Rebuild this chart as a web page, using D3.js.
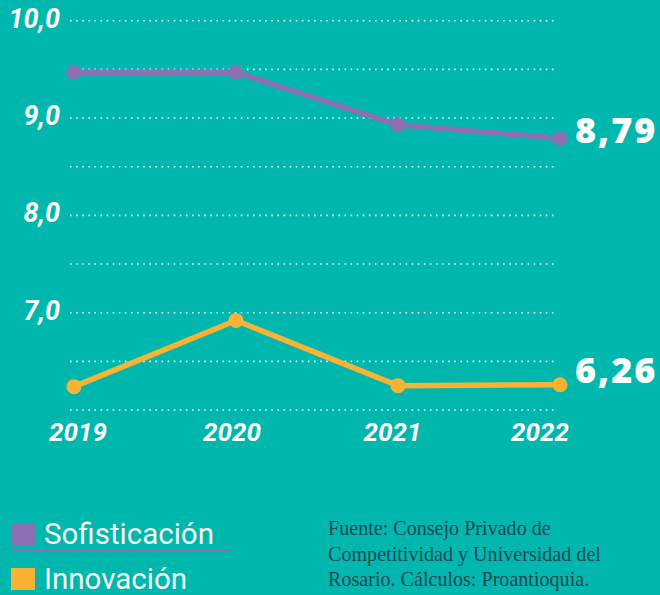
<!DOCTYPE html>
<html><head><meta charset="utf-8">
<script src="https://cdn.jsdelivr.net/npm/d3@7"></script>
<style>html,body{margin:0;padding:0;background:#00B7AD;}svg{display:block;}</style>
</head><body>
<svg id="c" width="660" height="595"></svg>
<script>
const years = ["2019","2020","2021","2022"];
const sofisticacion = [9.47, 9.47, 8.93, 8.79];
const innovacion = [6.24, 6.92, 6.25, 6.26];
const gridValues = [6.0, 6.5, 7.0, 7.5, 8.0, 8.5, 9.0, 9.5, 10.0];
const tickLabels = [7.0, 8.0, 9.0, 10.0];
const endLabels = ["8,79", "6,26"];
const legendNames = ["Sofisticación", "Innovación"];
const sourceLines = ["Fuente: Consejo Privado de", "Competitividad y Universidad del", "Rosario. Cálculos: Proantioquia."];

const BG = "#00B7AD", PURPLE = "#8C70B1", ORANGE = "#F8B334";
const labelShift = [4, -4, -5.5, -20];
const svg = d3.select("#c");
svg.append("rect").attr("width",660).attr("height",595).attr("fill",BG);

const x = d3.scalePoint().domain(years).range([74, 560]);
const y = d3.scaleLinear().domain([6, 10]).range([410, 20.7]);
const fmt = v => d3.format(".1f")(v).replace(".", ",");

// grid
svg.append("g").selectAll("line").data(gridValues).join("line")
  .attr("x1", 70).attr("x2", 558)
  .attr("y1", d => y(d)).attr("y2", d => y(d))
  .attr("stroke", "#ffffff").attr("stroke-opacity", 0.9)
  .attr("stroke-width", 1.6).attr("stroke-dasharray", "1.6,4.5");

// y labels
svg.append("g").selectAll("text").data(tickLabels).join("text")
  .attr("x", 60).attr("y", d => y(d) + 7)
  .attr("text-anchor", "end")
  .attr("font-family", "Roboto, sans-serif").attr("font-weight", 700).attr("font-style", "italic")
  .attr("font-size", 27).attr("fill", "#fff")
  .text(d => fmt(d));

// x labels
svg.append("g").selectAll("text").data(years).join("text")
  .attr("x", (d,i) => x(d) + labelShift[i]).attr("y", 441)
  .attr("text-anchor", "middle")
  .attr("font-family", "Roboto, sans-serif").attr("font-weight", 700).attr("font-style", "italic")
  .attr("font-size", 26).attr("fill", "#fff")
  .text(d => d);

const series = [
  {name: legendNames[0], values: sofisticacion, color: PURPLE, label: endLabels[0], dy: 5},
  {name: legendNames[1], values: innovacion, color: ORANGE, label: endLabels[1], dy: -2}
];
const line = d3.line().x((d,i) => x(years[i])).y(d => y(d));
series.forEach(s => {
  svg.append("path").datum(s.values).attr("d", line)
    .attr("fill", "none").attr("stroke", s.color).attr("stroke-width", 5.5)
    .attr("stroke-linejoin", "round");
  svg.append("g").selectAll("circle").data(s.values).join("circle")
    .attr("cx", (d,i) => x(years[i])).attr("cy", d => y(d)).attr("r", 7.5)
    .attr("fill", s.color);
  const last = s.values[s.values.length-1];
  svg.append("text").attr("x", x(years[years.length-1]) + 15).attr("y", y(last) + s.dy)
    .attr("font-family", "'Open Sans', sans-serif").attr("font-weight", 800)
    .attr("font-size", 36).attr("letter-spacing", 2).attr("fill", "#fff")
    .text(s.label);
});

// legend
series.forEach((s, i) => {
  const g = svg.append("g").attr("transform", `translate(11, ${523 + i*45})`);
  g.append("rect").attr("x", 0).attr("y", 0).attr("width", 24).attr("height", 22).attr("fill", s.color);
  g.append("text").attr("x", 33).attr("y", 20.5)
    .attr("font-family", "Roboto, sans-serif").attr("font-size", 29.5).attr("fill", "#f4f4f4")
    .text(s.name);
  g.append("rect").attr("x", 0).attr("y", 27 + i).attr("width", 218).attr("height", 2 + i).attr("fill", s.color);
});

// source
svg.append("g").selectAll("text").data(sourceLines).join("text")
  .attr("x", 328).attr("y", (d,i) => 535 + i*25.5)
  .attr("font-family", "'Liberation Serif', serif").attr("font-size", 20.1)
  .attr("fill", "#1F4757")
  .text(d => d);
</script>
</body></html>
